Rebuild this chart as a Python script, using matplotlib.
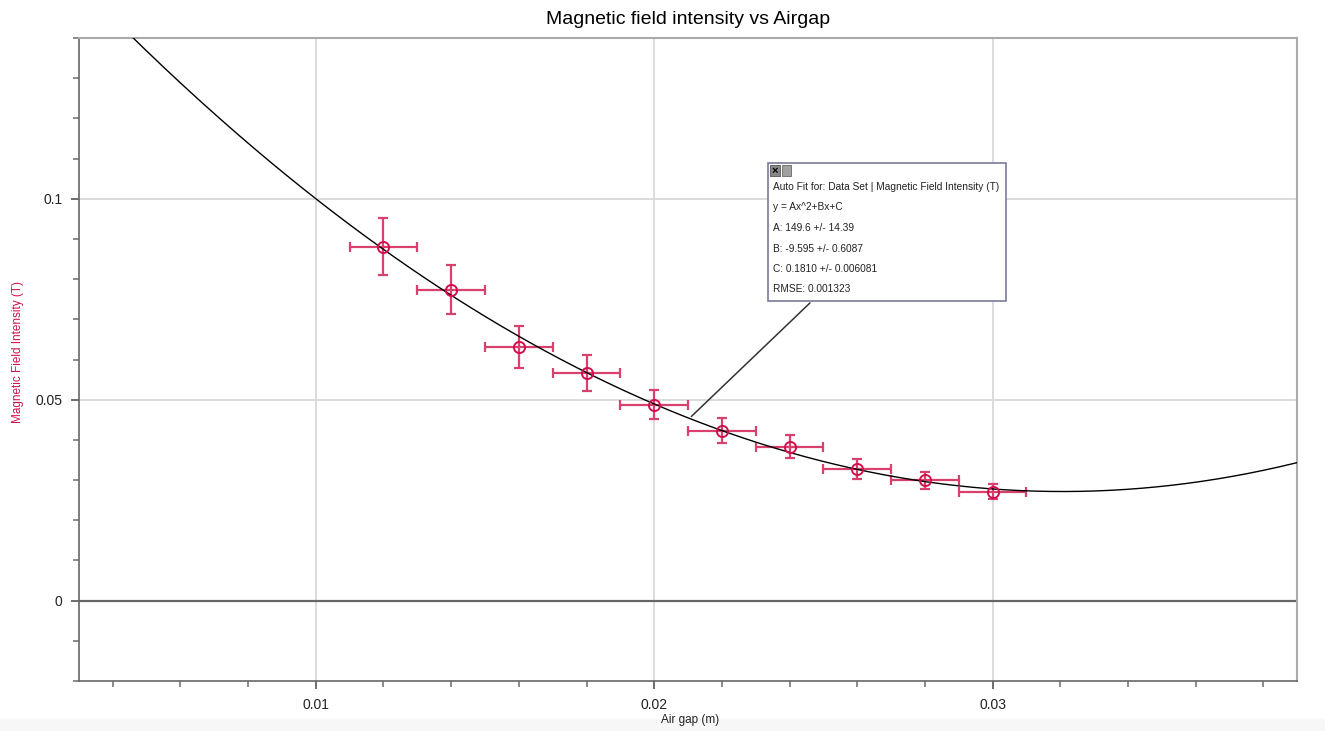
import numpy as np
import matplotlib.pyplot as plt
from matplotlib.ticker import MultipleLocator, FuncFormatter
from matplotlib.patches import Rectangle

plt.rcParams['font.family'] = ['Liberation Sans', 'DejaVu Sans']

# measured air gap (m) and field intensity (T)
gap = [0.012, 0.014, 0.016, 0.018, 0.020, 0.022, 0.024, 0.026, 0.028, 0.030]
field = [0.0881, 0.0774, 0.0632, 0.0567, 0.0488, 0.0423, 0.0383, 0.0328, 0.0299, 0.0271]
field_err = [0.0070, 0.0061, 0.0052, 0.0045, 0.0037, 0.0031, 0.0029, 0.0025, 0.0022, 0.0019]
gap_err = [0.001] * len(gap)

# quadratic auto fit y = A x^2 + B x + C
A, B, C = 149.6, -9.595, 0.1810
fit_text = ["Auto Fit for: Data Set | Magnetic Field Intensity (T)",
            "y = Ax^2+Bx+C",
            "A: 149.6 +/- 14.39",
            "B: -9.595 +/- 0.6087",
            "C: 0.1810 +/- 0.006081",
            "RMSE: 0.001323"]

pink = '#d8406e'
red = '#d0104c'

fig = plt.figure(figsize=(13.25, 7.31), dpi=100)
fig.patches.append(Rectangle((0, 0), 1, 0.016, transform=fig.transFigure,
                             color='#f7f7f7', zorder=0))
ax = fig.add_axes([0.0596, 0.0684, 0.9193, 0.8796])

ax.set_xlim(0.003, 0.039)
ax.set_ylim(-0.02, 0.14)

xs = np.linspace(0.003, 0.039, 400)
ax.plot(xs, A * xs**2 + B * xs + C, color='black', lw=1.0, zorder=4)

ax.errorbar(gap, field, xerr=gap_err, yerr=field_err, fmt='none',
            ecolor=pink, elinewidth=1.6, capsize=3.5, capthick=1.6, zorder=3)
ax.plot(gap, field, 'o', mfc='none', mec=red, mew=1.4, ms=8, zorder=5)

ax.axhline(0, color='#666666', lw=1.6, zorder=2)

ax.xaxis.set_major_locator(MultipleLocator(0.01))
ax.xaxis.set_minor_locator(MultipleLocator(0.002))
ax.yaxis.set_major_locator(MultipleLocator(0.05))
ax.yaxis.set_minor_locator(MultipleLocator(0.01))
ax.xaxis.set_major_formatter(FuncFormatter(lambda v, p: f'{v:g}'))
ax.yaxis.set_major_formatter(FuncFormatter(lambda v, p: '0' if abs(v) < 1e-9 else f'{v:g}'))
ax.grid(True, which='major', color='#d9d9d9', lw=1.3, zorder=0)
ax.tick_params(which='major', length=6, width=1.2, color='#555555', labelsize=10,
               labelcolor='#222222', pad=6)
ax.tick_params(which='minor', length=4, width=1.2, color='#777777')

for s in ['left', 'bottom']:
    ax.spines[s].set_color('#666666')
    ax.spines[s].set_linewidth(1.2)
for s in ['top', 'right']:
    ax.spines[s].set_color('#aaaaaa')
    ax.spines[s].set_linewidth(1.5)

ax.set_title('Magnetic field intensity vs Airgap', fontsize=14, pad=10)
fig.text(690 / 1325, (731 - 720) / 731, 'Air gap (m)', fontsize=8.5,
         ha='center', va='center', color='#222222')
fig.text(18 / 1325, (731 - 352) / 731, 'Magnetic Field Intensity (T)', fontsize=8.5,
         ha='center', va='center', rotation=90, color=red)

# fit callout box with leader line to the curve
x0 = 0.02104
y0 = A * x0**2 + B * x0 + C
ax.annotate('', xy=(x0, y0), xytext=(812 / 1325, (731 - 301) / 731),
            textcoords='figure fraction',
            arrowprops=dict(arrowstyle='-', color='#333333', lw=1.1))
box = Rectangle((768 / 1325, (731 - 301) / 731), 238 / 1325, 138 / 731,
                transform=fig.transFigure, fc='white', ec='#7a7a9a', lw=1.2, zorder=10)
fig.patches.append(box)
fig.patches.append(Rectangle((770 / 1325, (731 - 176) / 731), 10 / 1325, 11 / 731,
                             transform=fig.transFigure, fc='#888888', ec='#555555',
                             lw=0.6, zorder=11))
fig.patches.append(Rectangle((782 / 1325, (731 - 176) / 731), 9 / 1325, 11 / 731,
                             transform=fig.transFigure, fc='#a0a0a0', ec='#666666',
                             lw=0.6, zorder=11))
fig.text(775 / 1325, (731 - 170.5) / 731, '×', fontsize=8, fontweight='bold',
         ha='center', va='center', color='black', zorder=12)
for i, line in enumerate(fit_text):
    fig.text(773 / 1325, (731 - (187 + i * 20.5)) / 731, line, fontsize=7.3,
             ha='left', va='center', color='#222222', zorder=12)

fig.savefig('out.png', dpi=100)
